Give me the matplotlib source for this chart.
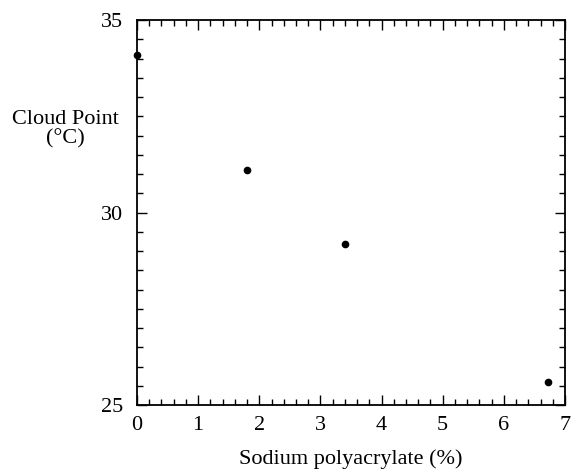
import matplotlib

matplotlib.use("Agg")
import matplotlib.pyplot as plt
from matplotlib.ticker import MultipleLocator

# data
polyacrylate = [0.0, 1.8, 3.4, 6.72]
cloud_point = [34.1, 31.1, 29.18, 25.6]

plt.rcParams["font.family"] = ["Liberation Serif", "DejaVu Serif"]

fig = plt.figure(figsize=(5.71, 4.70), dpi=100)
ax = fig.add_axes([137 / 571, 1 - 405 / 470, 428 / 571, 385 / 470])

ax.plot(polyacrylate, cloud_point, "o", color="black", markersize=4.5, clip_on=False, zorder=5)

ax.set_xlim(0, 7)
ax.set_ylim(25, 35)
ax.xaxis.set_major_locator(MultipleLocator(1))
ax.xaxis.set_minor_locator(MultipleLocator(0.2))
ax.yaxis.set_major_locator(MultipleLocator(5))
ax.yaxis.set_minor_locator(MultipleLocator(0.5))
ax.tick_params(which="both", direction="in", top=True, right=True, width=1, color="black")
ax.tick_params(which="major", length=7, labelsize=16)
ax.tick_params(axis="y", which="major", pad=10)
ax.tick_params(axis="x", which="major", pad=8)
ax.tick_params(which="minor", length=4)
for s in ax.spines.values():
    s.set_linewidth(1.3)

ax.set_xlabel("Sodium polyacrylate (%)", fontsize=16, labelpad=10)
fig.text(65 / 571, 1 - 129 / 470, "Cloud Point\n(°C)", ha="center", va="center",
         fontsize=16, linespacing=1.0)

fig.savefig("out.png", dpi=100)
